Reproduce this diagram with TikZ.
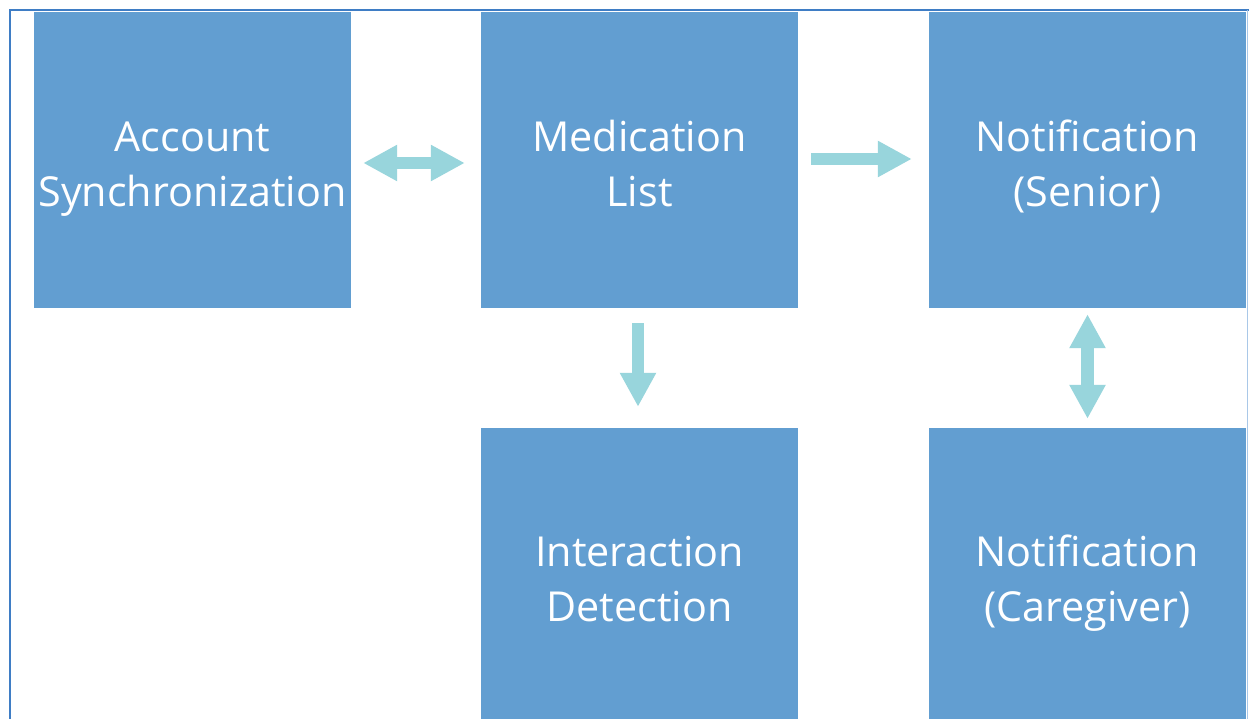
\documentclass[tikz,border=0pt]{standalone}
\usepackage{fontspec}
\setmainfont{Open Sans}
\usetikzlibrary{arrows.meta}
\definecolor{boxblue}{HTML}{629ED1}
\definecolor{arrowcyan}{HTML}{98D5DC}
\definecolor{frameblue}{HTML}{3F7DC5}
\definecolor{framelight}{HTML}{A9C8E8}
\newcommand\toptext[2]{\rule{0pt}{51pt}#1\\#2\rule[-12pt]{0pt}{12pt}}
\newcommand\bottext[2]{\rule{0pt}{43pt}#1\\#2\rule[-12pt]{0pt}{12pt}}
\tikzset{
  blk/.style={fill=boxblue, draw=none, minimum width=317pt, text width=317pt, align=center,
    inner sep=0pt, text=white, font=\fontsize{41.3}{55}\selectfont},
  conn/.style={draw=arrowcyan, line width=12.5pt,
    -{Triangle[width=34pt,length=34pt]}},
  conn2/.style={draw=arrowcyan, line width=12.5pt,
    {Triangle[width=34pt,length=34pt]}-{Triangle[width=34pt,length=34pt]}},
}
\begin{document}
\begin{tikzpicture}[x=1pt,y=-1pt]
\useasboundingbox (0,0) rectangle (1249,719);
\fill[white] (0,0) rectangle (1249,719);
% frame
\draw[frameblue, line width=2pt] (10,760) -- (10,10) -- (1260,10);
\draw[framelight, line width=1pt] (1247.5,10) -- (1247.5,760);
% boxes
\node[blk, minimum height=296pt] (acc) at (192.5,160) {\toptext{Account}{Synchronization}};
\node[blk, minimum height=296pt] (med) at (639.5,160) {\toptext{Medication}{List}};
\node[blk, minimum height=296pt] (sen) at (1087.5,160) {\toptext{Notification}{(Senior)}};
\node[blk, minimum height=300pt] (int) at (639.5,578) {\bottext{Interaction}{Detection}};
\node[blk, minimum height=300pt] (care) at (1087.5,578) {\bottext{Notification}{(Caregiver)}};
% connectors
\draw[conn2] ([xshift=12pt,yshift=-3pt]acc.east) -- ([xshift=-16pt,yshift=-3pt]med.west);
\draw[conn] ([xshift=13pt,yshift=1pt]med.east) -- ([xshift=-17pt,yshift=1pt]sen.west);
\draw[conn] ([xshift=-1.5pt,yshift=-15pt]med.south) -- ([xshift=-1.5pt,yshift=21pt]int.north);
\draw[conn2] ([yshift=-6pt]sen.south) -- ([yshift=9pt]care.north);
\end{tikzpicture}
\end{document}
